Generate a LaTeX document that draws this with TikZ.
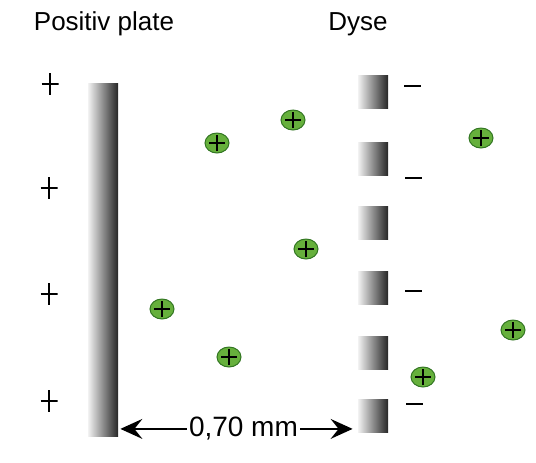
\documentclass[tikz,border=0pt]{standalone}
\usepackage{fontspec}
\setmainfont{Liberation Sans}
\usepackage{tikz}
\usetikzlibrary{positioning, arrows.meta}
\usetikzlibrary{shapes.geometric}

\definecolor{iongreen}{RGB}{102,176,60}
\definecolor{iondark}{RGB}{50,118,34}

\tikzset{
  platebar/.style={rectangle, minimum width=15pt, minimum height=176.5pt,
    inner sep=0pt, left color=black!5, right color=black!85},
  nozzle/.style={rectangle, minimum width=15pt, minimum height=16.5pt,
    inner sep=0pt, left color=black!5, right color=black!85},
  ion/.style={ellipse, minimum width=12pt, minimum height=10pt, inner sep=0pt,
    fill=iongreen, draw=iondark, line width=0.5pt,
    path picture={
      \draw[black, line width=0.9pt] ([xshift=-3.8pt]path picture bounding box.center)
        -- ([xshift=3.8pt]path picture bounding box.center);
      \draw[black, line width=0.9pt] ([yshift=-4pt]path picture bounding box.center)
        -- ([yshift=4pt]path picture bounding box.center);
    }},
  plussign/.style={rectangle, minimum width=8.5pt, minimum height=11pt, inner sep=0pt,
    path picture={
      \draw[black, line width=0.8pt] (path picture bounding box.west)
        -- (path picture bounding box.east);
      \draw[black, line width=0.8pt] (path picture bounding box.north)
        -- (path picture bounding box.south);
    }},
  minussign/.style={rectangle, minimum width=8.5pt, minimum height=1pt, inner sep=0pt,
    fill=black}
}

\begin{document}
\begin{tikzpicture}[x=0.5pt, y=-0.5pt, font=\fontsize{13}{15}\selectfont]
    \useasboundingbox (0,0) rectangle (536,462);

    % headings
    \node (platetitle) at (104, 24) {Positiv plate};
    \node (dysetitle)  at (358, 24) {Dyse};

    % the positive plate
    \node[platebar] (plate) at (103, 259.5) {};

    % the nozzle, cut into blocks
    \node[nozzle] (noz1) at (373,  92) {};
    \node[nozzle] (noz2) at (373, 159) {};
    \node[nozzle] (noz3) at (373, 223) {};
    \node[nozzle] (noz4) at (373, 288) {};
    \node[nozzle] (noz5) at (373, 353) {};
    \node[nozzle] (noz6) at (373, 416) {};

    % plus signs beside the plate
    \node[plussign] (plus1) at (50,  84) {};
    \node[plussign] (plus2) at (49, 188) {};
    \node[plussign] (plus3) at (49, 294) {};
    \node[plussign] (plus4) at (49, 401) {};

    % minus signs beside the nozzle
    \node[minussign] (minus1) at (412,  86) {};
    \node[minussign] (minus2) at (413, 178) {};
    \node[minussign] (minus3) at (413, 291) {};
    \node[minussign] (minus4) at (414, 404) {};

    % the ions
    \node[ion] (ion1) at (217, 143) {};
    \node[ion] (ion2) at (293, 120) {};
    \node[ion] (ion3) at (306, 249) {};
    \node[ion] (ion4) at (162, 309) {};
    \node[ion] (ion5) at (229, 357) {};
    \node[ion] (ion6) at (481, 138) {};
    \node[ion] (ion7) at (513, 330) {};
    \node[ion] (ion8) at (423, 377) {};

    % distance between plate and nozzle
    \coordinate (dimL) at ([xshift=1pt, yshift=2pt]plate.east |- noz6.south);
    \coordinate (dimR) at ([xshift=-2.5pt, yshift=2pt]noz6.south west);
    \draw[{Stealth[length=11pt, width=10pt, inset=4pt]}-{Stealth[length=11pt, width=10pt, inset=4pt]}, line width=0.7pt]
      (dimL) -- node[pos=0.53, fill=white, inner xsep=1pt, inner ysep=1pt, font=\fontsize{14}{16}\selectfont] (dimlabel) {0,70 mm} (dimR);

  \end{tikzpicture}
\end{document}
